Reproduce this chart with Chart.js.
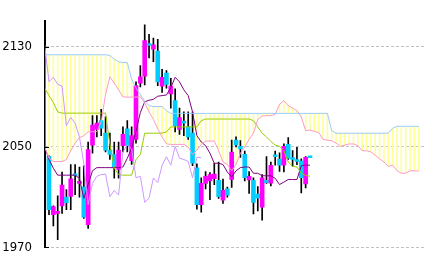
<!DOCTYPE html>
<html>
<head>
<meta charset="utf-8">
<script src="https://cdn.jsdelivr.net/npm/chart.js@4.4.0/dist/chart.umd.min.js"></script>
<style>
  html, body { margin: 0; padding: 0; background: #fff; }
</style>
</head>
<body>
<canvas id="myChart" width="433" height="268"></canvas>
<script>
// daily candles, index 0 = first candle on the left
var opens  = [2042.5, 1996, 1997, 2003, 2010, 2010.5, 2027.5, 2021, 2018, 1988,
              2051.5, 2064, 2071, 2061, 2047.5, 2044, 2032, 2051, 2064.5, 2039,
              2056, 2101, 2106.5, 2131.6, 2128, 2126.6, 2098.6, 2109, 2092.3, 2087,
              2064, 2069.5, 2066, 2061, 2033.4, 2004, 2021, 2023, 2024.6, 2023.4,
              2007.6, 2016.6, 2024.1, 2055.4, 2050.5, 2044.1, 2023.6, 2023.4, 2012.3, 2002,
              2023.4, 2021.1, 2042.6, 2040.4, 2035.4, 2052.2, 2041, 2039.2, 2038.7, 2020.5,
              2041.6];
var highs  = [2043, 2003, 2011, 2030, 2016, 2036, 2036, 2034, 2035, 2054,
              2075, 2075, 2080, 2074, 2061, 2054, 2054, 2066, 2071, 2066,
              2102, 2115, 2147.5, 2140, 2137, 2136, 2112, 2111, 2104.8, 2096.5,
              2081, 2078, 2078, 2078, 2036.6, 2025.3, 2030.4, 2029.5, 2037, 2038,
              2024.4, 2018, 2055.4, 2058, 2055, 2046.7, 2030.4, 2025.3, 2018.3, 2027.9,
              2042.4, 2038, 2046.7, 2045.4, 2052.5, 2057.4, 2047.2, 2049.7, 2040.5, 2042.4,
              2041.6];
var lows   = [1996, 1987, 1976, 1997, 2000, 2000, 2012, 2010, 1993, 1985,
              2045, 2058, 2059, 2046, 2040, 2025, 2025, 2046, 2046, 2036,
              2053, 2098, 2099.5, 2121, 2118, 2099, 2093.5, 2097, 2081, 2062,
              2060, 2059, 2056, 2035, 2000.3, 1998, 2016.6, 2008, 2020, 2009,
              2005, 2010, 2017.8, 2050, 2041.7, 2022.9, 2012.9, 1996.5, 1999, 1991.5,
              2021, 2019, 2035.4, 2030.4, 2030, 2040, 2034.7, 2035.9, 2013.3, 2017.4,
              2041.4];
var closes = [2000, 2002.5, 1998.5, 2019.5, 2005.5, 2024.5, 2027, 2022.5, 1994, 2048,
              2067.5, 2069, 2065, 2047.5, 2044, 2034, 2047.5, 2060, 2051, 2059,
              2099, 2106, 2135, 2131, 2131.6, 2102, 2105.6, 2100, 2098.6, 2067,
              2073.5, 2069, 2058, 2037, 2004, 2021, 2026.6, 2028, 2028.3, 2010.3,
              2015.3, 2011.6, 2046, 2051.7, 2048.4, 2025.4, 2026.6, 2005.8, 2009.1, 2025.3,
              2021.6, 2035.4, 2042.2, 2035.4, 2050.5, 2041, 2040, 2038.4, 2025.5, 2041.7,
              2041.4];

// ichimoku lines, first value sits one day before candle 0
var tenkan = [2050, 2040, 2033, 2027.5, 2027.5, 2027.5, 2027.5, 2027.5, 2025, 2009,
              2020, 2031, 2033.5, 2033.5, 2033.5, 2033.5, 2033.5, 2033.5, 2034, 2041,
              2049, 2062.5, 2077.5, 2086, 2087.3, 2088, 2090.5, 2091, 2091.5, 2097.3,
              2105.6, 2102, 2095.6, 2091, 2078, 2059, 2054, 2051, 2045, 2037,
              2037, 2036, 2030, 2026, 2031, 2033.5, 2034, 2034, 2029, 2029,
              2027, 2027, 2027, 2025, 2020, 2022, 2024, 2024, 2024, 2035,
              2035.5, 2035.5];
var kijun  = [2097, 2091, 2085.5, 2078, 2077, 2077, 2077, 2077, 2077, 2077,
              2077, 2077, 2077, 2077, 2077, 2052, 2033, 2028, 2027.5, 2027.5,
              2027.5, 2040, 2044, 2061, 2061, 2061, 2061, 2061, 2062, 2066,
              2066, 2066, 2066, 2066, 2066, 2066, 2071, 2072.3, 2072.3, 2072.3,
              2072.3, 2072.3, 2072.3, 2072.3, 2072.3, 2072.3, 2072.3, 2072.3, 2071, 2066,
              2061, 2058, 2054.5, 2051.5, 2050.5, 2047, 2038, 2034.5, 2034, 2029,
              2027.3, 2026.6];
// leading spans run 25 days past the last candle
var spanA  = [2050, 2041, 2038.4, 2038.4, 2038.4, 2040, 2047, 2053, 2057.5, 2059,
              2062, 2062.2, 2062.2, 2070, 2092, 2106, 2101, 2095.6, 2090, 2089.8,
              2089.8, 2089.8, 2090, 2085, 2078, 2072, 2064.5, 2058, 2052.5, 2052,
              2052, 2052, 2052, 2050, 2044, 2047.5, 2052, 2054.7, 2054.7, 2054.7,
              2047, 2038, 2036, 2031, 2036, 2045, 2050, 2056, 2061, 2072,
              2074.7, 2075, 2075, 2076, 2084, 2087, 2083, 2081, 2079, 2074,
              2063, 2063.5, 2062.5, 2061.5, 2056, 2055.4, 2055, 2053, 2050.5, 2051.5,
              2052.4, 2052.4, 2051, 2047, 2047, 2046, 2043.4, 2040.6, 2038, 2034.5,
              2035.4, 2031, 2029, 2029, 2031, 2031, 2030.8];
var spanB  = [2123.6, 2123.6, 2123.6, 2123.6, 2123.6, 2123.6, 2123.6, 2123.6, 2123.6, 2123.6,
              2123.6, 2123.6, 2123.6, 2123.6, 2123.6, 2123, 2120, 2118, 2117.5, 2117.4,
              2104, 2097, 2092, 2086.5, 2083, 2082.3, 2082.3, 2082.3, 2079, 2076.8,
              2076.8, 2076.8, 2076.8, 2076.8, 2076.8, 2076.8, 2076.8, 2076.8, 2076.8, 2076.8,
              2076.8, 2076.8, 2076.8, 2076.8, 2076.8, 2076.8, 2076.8, 2076.8, 2076.8, 2076.8,
              2076.8, 2076.8, 2076.8, 2076.8, 2076.8, 2076.8, 2076.8, 2076.8, 2076.8, 2076.8,
              2076.8, 2076.8, 2076.8, 2076.8, 2076.8, 2076.8, 2063, 2061, 2061, 2061,
              2061, 2061, 2061, 2061, 2061, 2061, 2061, 2061, 2061, 2061,
              2065, 2066.5, 2066.5, 2066.5, 2066.5, 2066.5, 2066.5];
var yTicks = [1970, 2050, 2130];
var shift = 25;

var UP = '#FF00FF', DOWN = '#00CCFF';

function pts(arr, start) {
    return arr.map(function (v, k) { return {x: start + k, y: v}; });
}

var bodies = opens.map(function (o, i) { return {x: i, y: [o, closes[i]]}; });
var wicks = highs.map(function (h, i) { return {x: i, y: [lows[i], h]}; });
var bodyColors = opens.map(function (o, i) { return closes[i] > o ? UP : DOWN; });
// lagging span: closes drawn 25 days back
var chikou = pts(closes.slice(shift - 1), -1);
var cloud = spanA.map(function (a, k) {
    return {x: k - 1, y: [Math.min(a, spanB[k]), Math.max(a, spanB[k])]};
});

// short black tick marks just inside the axis
var innerTicks = {
    id: 'innerTicks',
    afterDraw: function (chart) {
        var c = chart.ctx, y = chart.scales.y, left = chart.chartArea.left;
        c.save();
        c.strokeStyle = '#000';
        c.lineWidth = 1;
        yTicks.forEach(function (v) {
            var py = Math.round(y.getPixelForValue(v)) + 0.5;
            c.beginPath();
            c.moveTo(left, py);
            c.lineTo(left + 4, py);
            c.stroke();
        });
        c.restore();
    }
};

function line(data, color) {
    return {type: 'line', data: data, borderColor: color, borderWidth: 1,
            pointRadius: 0, tension: 0, fill: false, order: 0};
}

var ctx = document.getElementById('myChart').getContext('2d');
var chart = new Chart(ctx, {
    type: 'bar',
    data: {
        datasets: [
            line(pts(spanB, -1), '#99CCFF'),
            line(pts(spanA, -1), '#FF99CC'),
            line(chikou, '#CC99FF'),
            line(pts(kijun, -1), '#99CC00'),
            line(pts(tenkan, -1), '#800080'),
            {data: bodies, backgroundColor: bodyColors, barThickness: 4,
             minBarLength: 2, grouped: false, order: 1},
            {data: wicks, backgroundColor: '#000', barThickness: 1,
             grouped: false, order: 2},
            {data: cloud, backgroundColor: '#FFFF99', barThickness: 1,
             grouped: false, order: 3}
        ]
    },
    options: {
        responsive: false,
        animation: false,
        layout: {padding: {top: 14, right: 7, bottom: 14, left: 0}},
        plugins: {legend: {display: false}, tooltip: {enabled: false}},
        scales: {
            x: {type: 'linear', min: -0.92, max: 86.67, display: false, offset: false},
            y: {
                min: 1970,
                max: 2150.7,
                afterFit: function (s) { s.width = 45; },
                afterBuildTicks: function (s) {
                    s.ticks = yTicks.map(function (v) { return {value: v}; });
                },
                ticks: {
                    padding: 13,
                    color: '#000',
                    font: {family: "'Liberation Sans Narrow', 'DejaVu Sans Condensed', sans-serif", size: 13},
                    callback: function (v) { return String(v); }
                },
                grid: {color: '#C0C0C0', drawTicks: false},
                border: {color: '#000', width: 2, dash: [3, 2]}
            }
        }
    },
    plugins: [innerTicks]
});
</script>
</body>
</html>
